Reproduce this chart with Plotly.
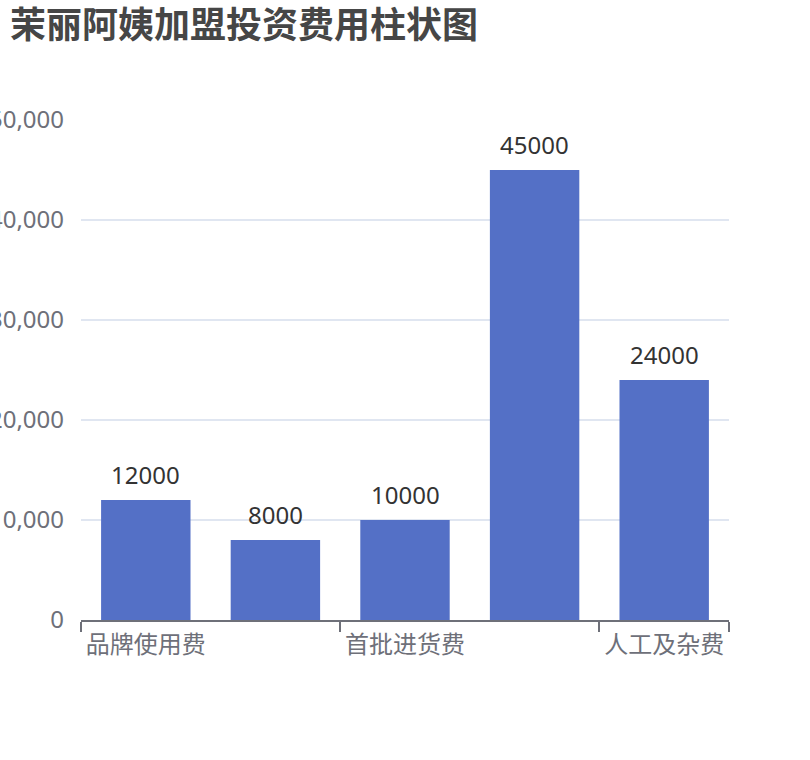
import plotly.graph_objects as go

# chart data
title_text = "茉丽阿姨加盟投资费用柱状图"
categories = ["品牌使用费", "店面装修费", "首批进货费", "设备购置费", "人工及杂费"]
values = [12000, 8000, 10000, 45000, 24000]
y_ticks = [0, 10000, 20000, 30000, 40000, 50000]

font_family = "Noto Sans, Noto Sans CJK SC, sans-serif"
axis_color = "#6E7079"
grid_color = "#E0E6F1"
bar_color = "#5470C6"

fig = go.Figure()

# the bars themselves
fig.add_trace(go.Bar(
    x=categories,
    y=values,
    marker=dict(color=bar_color, line=dict(width=0)),
    width=0.69,
    hovertemplate="%{x}: %{y}<extra></extra>",
))

n = len(categories)
positions = list(range(n))
# invisible helper trace so the boundary-tick axis gets drawn
fig.add_trace(go.Scatter(
    x=positions, y=values, xaxis="x2", mode="markers",
    marker=dict(opacity=0), hoverinfo="skip", showlegend=False,
))

# value labels on top of each bar
for cat, val in zip(categories, values):
    fig.add_annotation(
        x=cat, y=val, xref="x", yref="y",
        text=str(val), showarrow=False,
        yanchor="bottom", yshift=7,
        font=dict(family=font_family, size=24, color="#333333"),
    )

# tick marks sit on the category boundaries, every other one (like echarts interval)
boundaries = [i - 0.5 for i in range(0, n, 2)] + [n - 0.5]

fig.update_layout(
    width=810,
    height=760,
    margin=dict(l=81, r=81, t=120, b=140, autoexpand=False),
    paper_bgcolor="white",
    plot_bgcolor="white",
    showlegend=False,
    font=dict(family=font_family, size=24, color=axis_color),
    title=dict(
        text="<b>" + title_text + "</b>",
        x=10 / 810, xanchor="left",
        y=1 - 25 / 760, yanchor="middle",
        font=dict(family=font_family, size=36, color="#464646"),
    ),
    xaxis=dict(
        type="category",
        range=[-0.5, n - 0.5],
        tickvals=categories[::2],
        ticktext=categories[::2],
        ticks="",
        showgrid=False,
        showline=False,
        zeroline=False,
        ticklabelstandoff=8,
        tickfont=dict(size=24, color=axis_color),
    ),
    xaxis2=dict(
        overlaying="x",
        anchor="y",
        side="bottom",
        range=[-0.5, n - 0.5],
        tickvals=boundaries,
        showticklabels=False,
        ticks="outside",
        ticklen=10,
        tickwidth=2,
        tickcolor=axis_color,
        showline=True,
        linewidth=2,
        linecolor=axis_color,
        showgrid=False,
        zeroline=False,
    ),
    yaxis=dict(
        range=[0, 50000],
        tickvals=y_ticks,
        tickformat=",",
        showgrid=True,
        gridcolor=grid_color,
        gridwidth=2,
        zeroline=False,
        showline=False,
        ticks="",
        ticklabelstandoff=16,
        tickfont=dict(size=24, color=axis_color),
    ),
)

# drop the page's default body margin so the chart sits at the top-left corner
fig.write_html(
    "out.html",
    config={"displayModeBar": False},
    post_script="document.body.style.margin='0';",
)
